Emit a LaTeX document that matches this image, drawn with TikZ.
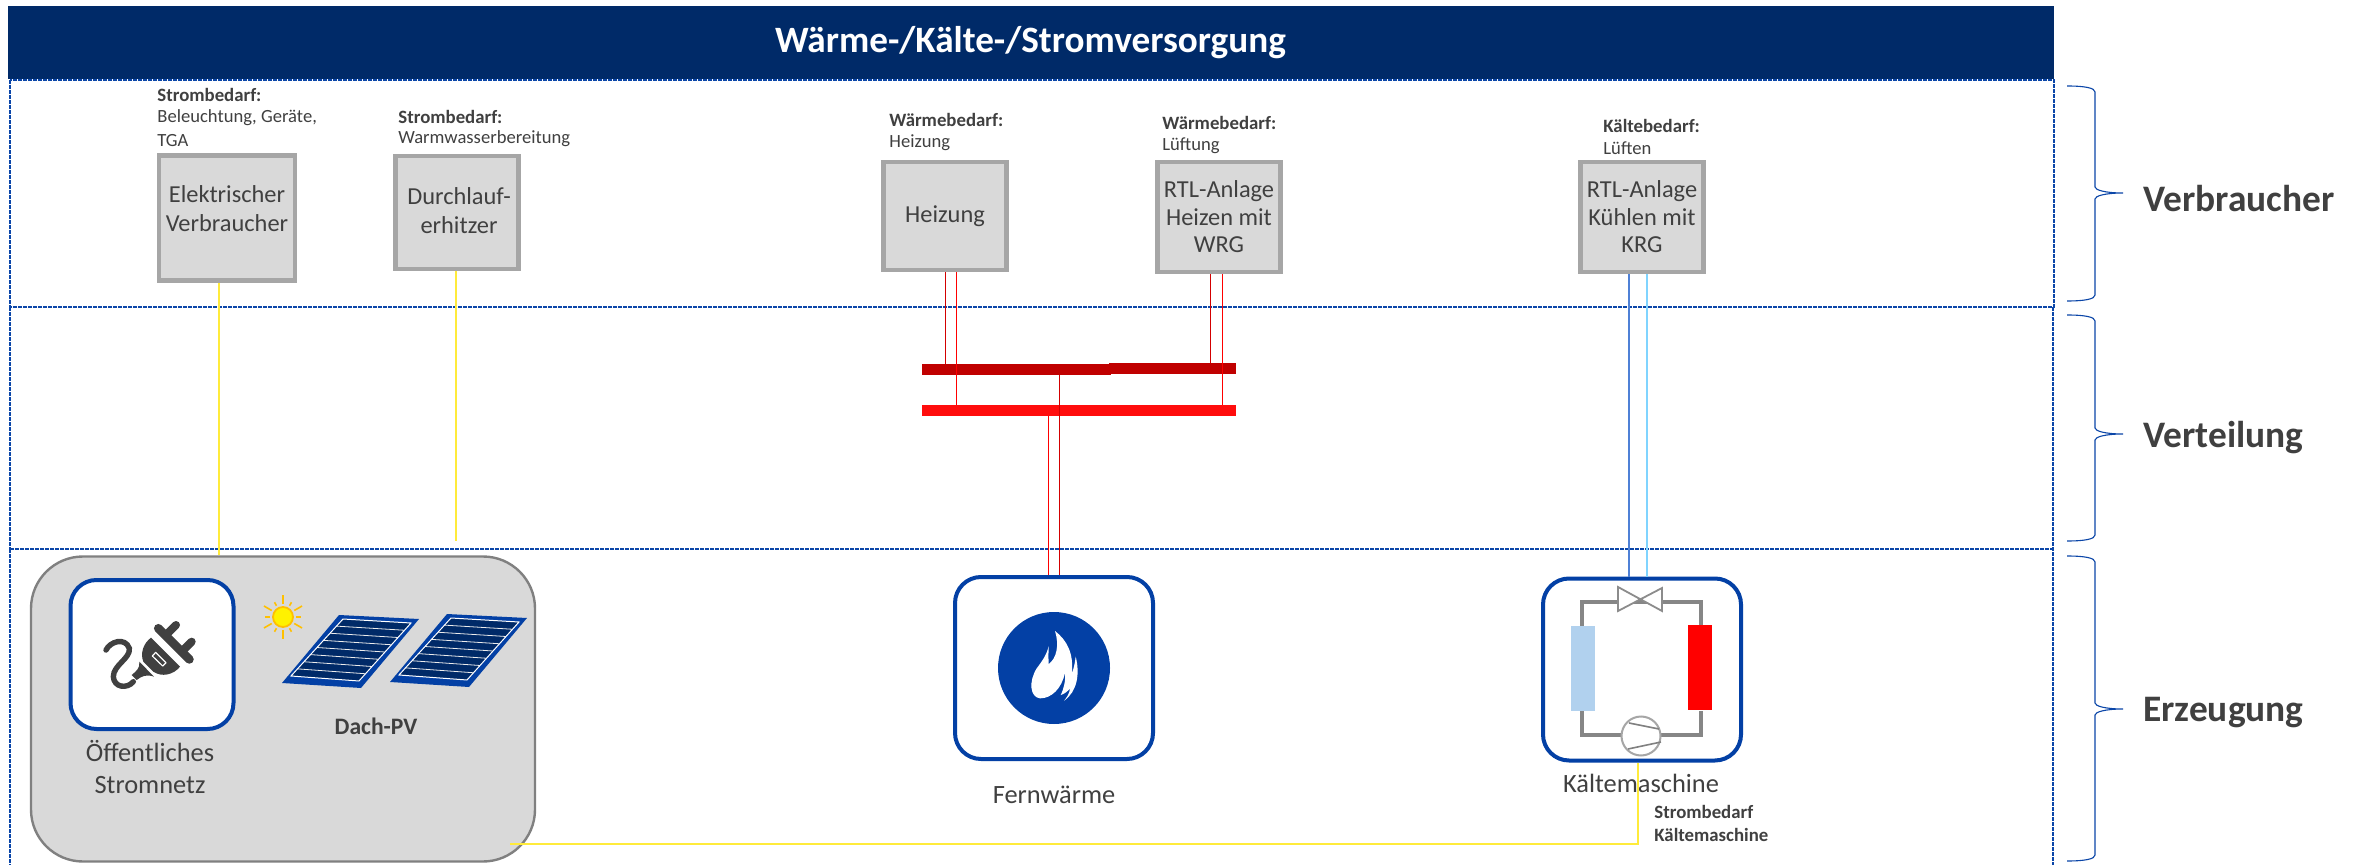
\documentclass[tikz,border=0pt]{standalone}
\usepackage{fontspec}
\setmainfont{Carlito}
\usetikzlibrary{calc}
\definecolor{navy}{HTML}{002A68}
\definecolor{bandblue}{HTML}{0B46A8}
\definecolor{iconblue}{HTML}{0340A5}
\definecolor{txt}{HTML}{404040}
\definecolor{boxfill}{HTML}{D9D9D9}
\definecolor{boxline}{HTML}{A6A6A6}
\definecolor{ylw}{HTML}{FFEB3B}
\definecolor{busdark}{HTML}{C00000}
\definecolor{busred}{HTML}{FF0D0D}
\definecolor{coldfill}{HTML}{B1D1EE}
\definecolor{coolblue}{HTML}{4F81D6}
\definecolor{coollight}{HTML}{80D4FF}
\definecolor{sunray}{HTML}{FFC000}
\newcommand{\fs}[1]{\fontsize{#1}{#1}\selectfont}
\tikzset{
  x=0.5pt,y=-0.5pt,
  band/.style={draw=bandblue,line width=0.9pt,dash pattern=on 2pt off 0.5pt},
  loadbox/.style={draw=boxline,line width=2.2pt,fill=boxfill,inner sep=0,align=center,text=txt,font=\fs{12.2}},
  small/.style={anchor=west,inner sep=0,text=txt,font=\fs{9.3},align=left},
  smallb/.style={anchor=west,inner sep=0,text=txt,font=\fs{9.4}\bfseries,align=left},
  section/.style={anchor=base west,inner sep=0,text=txt,font=\fs{18.7}\bfseries},
  lbl/.style={inner sep=0,text=txt,font=\fs{13.2},align=center},
  iconbox/.style={draw=iconblue,line width=2pt,fill=white,rounded corners=13pt,inner sep=0},
  elec/.style={draw=ylw,line width=0.75pt},
  hotline/.style={draw=red,line width=0.5pt},
  darkline/.style={draw=busdark!70!red,line width=0.5pt},
  bracestyle/.style={draw=bandblue,line width=0.55pt},
  pipe/.style={draw=gray!95,line width=1.9pt},
  solarpanel/.pic={
    \fill[iconblue] (0,0) -- (80,4) -- (22,73) -- (-57,68) -- cycle;
    \coordinate (pa) at (4,4); \coordinate (pb) at (72,8);
    \coordinate (pc) at (20,66); \coordinate (pd) at (-48,61);
    \fill[navy] (pa) -- (pb) -- (pc) -- (pd) -- cycle;
    \foreach \i in {1,...,7}{
      \draw[white!85!gray,line width=0.4pt] ($(pa)!\i/8!(pd)$) -- ($(pb)!\i/8!(pc)$);
    }
    \draw[white,line width=0.5pt] (pa) -- (pb) -- (pc) -- (pd) -- cycle;
  }
}
\begin{document}
\begin{tikzpicture}
\useasboundingbox (0,0) rectangle (2364,865);
\fill[white] (0,0) rectangle (2364,865);

% bands
\draw[band] (10,80) rectangle (2054,307);
\draw[band,line width=0.6pt] (10,307) -- (10,549) (2053,307) -- (2053,865);
\draw[band,line width=0.7pt] (10,549) -- (2053,549);
\draw[band,line width=0.6pt] (10,549) -- (10,865);

% title
\node[fill=navy,minimum width=1023pt,minimum height=36.5pt,inner sep=0,text=white,font=\fs{18.6}\bfseries] (title) at (1030.5,42.5) {\raisebox{-2pt}{Wärme-/Kälte-/Stromversorgung}};

% consumers
\node[loadbox,minimum width=68pt,minimum height=62.5pt] (el) at (227,218) {};
\node[inner sep=0,text=txt,font=\fs{12.2},align=center] (eltxt) at (227,209) {Elektrischer\\[2.3pt]Verbraucher};
\node[loadbox,minimum width=61.5pt,minimum height=56.5pt] (dl) at (457,212.5) {};
\node[inner sep=0,text=txt,font=\fs{12.2},align=center] (dltxt) at (459,211) {Durchlauf-\\[2.3pt]erhitzer};
\node[loadbox,minimum width=61.5pt,minimum height=54pt] (hz) at (945,216) {Heizung};
\node[loadbox,minimum width=61.5pt,minimum height=55pt] (rh) at (1219,217) {RTL-Anlage\\[1.5pt]Heizen mit\\[1.5pt]WRG};
\node[loadbox,minimum width=61.5pt,minimum height=55pt] (rk) at (1642,217) {RTL-Anlage\\[1.5pt]Kühlen mit\\[1.5pt]KRG};

% small labels
\node[smallb] (l1a) at (157,95) {Strombedarf:};
\node[small] (l1b) at (157,118) {Beleuchtung, Geräte,};
\node[small] (l1c) at (157,141) {TGA};
\node[smallb] (l2a) at (398,117) {Strombedarf:};
\node[small] (l2b) at (398,139) {Warmwasserbereitung};
\node[smallb] (l3a) at (889,120) {Wärmebedarf:};
\node[small] (l3b) at (889,143) {Heizung};
\node[smallb] (l4a) at (1162,123) {Wärmebedarf:};
\node[small] (l4b) at (1162,146) {Lüftung};
\node[smallb] (l5a) at (1603,126) {Kältebedarf:};
\node[small] (l5b) at (1603,148) {Lüften};

% generators
\node[draw=gray,line width=1.2pt,fill=boxfill,rounded corners=26pt,minimum width=252pt,minimum height=152.5pt,inner sep=0] (grid) at (283,709) {};
\node[iconbox,minimum width=81.5pt,minimum height=74.5pt] (plugbox) at (152,654.5) {};
\node[lbl] (plugtxt) at (150,767) {Öffentliches\\[3pt]Stromnetz};
\node[inner sep=0,text=txt,font=\fs{11.8}\bfseries] (pvtxt) at (376,726) {Dach-PV};
\node[iconbox,minimum width=99pt,minimum height=91pt] (fw) at (1054,668) {};
\node[circle,fill=iconblue,minimum size=56pt,inner sep=0] (flame) at (1054,668) {};
\node[lbl] (fwtxt) at (1054,795) {Fernwärme};
\node[iconbox,minimum width=99pt,minimum height=91pt] (km) at (1642,669.5) {};
\node[lbl] (kmtxt) at (1641,783) {Kältemaschine};
\node[smallb] (kma) at (1654,812) {Strombedarf};
\node[smallb] (kmb) at (1654,835) {Kältemaschine};

% plug icon
\begin{scope}[shift={(90,600)},x=0.1667pt,y=-0.1667pt]
  \draw[txt,line width=4pt,line cap=round] (258,75) -- (228,105);
  \draw[txt,line width=4pt,line cap=round] (305,125) -- (275,155);
  \draw[txt,line width=4.4pt,line cap=round] (205,85) -- (298,178);
  \fill[txt] (183,113) -- (270,200) .. controls (250,225) and (215,232) .. (190,215) -- (160,185) .. controls (150,160) and (160,130) .. (183,113) -- cycle;
  \fill[txt] (148,185) -- (192,230) .. controls (170,222) and (155,228) .. (140,240) -- (125,225) .. controls (140,212) and (150,205) .. (148,185) -- cycle;
  \draw[txt,line width=2.7pt,line cap=round] (48,150) .. controls (60,125) and (105,110) .. (118,145) .. controls (122,175) and (70,195) .. (70,230) .. controls (72,262) and (110,268) .. (130,245);
  \draw[white,line width=0.6pt,line cap=round] (197,157) -- (228,188) (187,168) -- (218,198);
  \draw[white,line width=0.6pt] (197,157) -- (187,168) (228,188) -- (218,198);
\end{scope}

% panels and sun
\pic at (339,615) {solarpanel};
\pic at (447,614) {solarpanel};
\foreach \a/\l in {90/22,60/17,30/22,0/18,-30/22,-60/17,-90/22,-120/17,-150/22,180/18,150/22,120/17}{
  \draw[sunray,line width=0.8pt] (283,617) ++(\a:13) -- ++(\a:\l-13);
}
\draw[draw=sunray,fill=yellow,line width=0.9pt] (283,617) circle[radius=10];

% flame
\begin{scope}[shift={(920,560)},x=0.1667pt,y=-0.1667pt]
\fill[white] (405,213) .. controls (440,240) and (462,280) .. (455,340) .. controls (462,325) and (465,305) .. (467,290)
 .. controls (480,340) and (472,395) .. (432,422) .. controls (440,412) and (448,402) .. (450,385) .. controls (442,395) and (432,402) .. (422,405)
 .. controls (432,385) and (437,360) .. (435,338) .. controls (425,385) and (395,415) .. (360,415)
 .. controls (330,412) and (325,365) .. (350,325) .. controls (365,305) and (380,285) .. (386,258) .. controls (385,280) and (385,300) .. (386,312)
 .. controls (410,295) and (418,255) .. (405,213) -- cycle;
\end{scope}

% refrigeration cycle
\draw[pipe] (1582,626) -- (1582,602) -- (1701,602) -- (1701,626);
\draw[pipe] (1582,711) -- (1582,735) -- (1701,735) -- (1701,711);
\fill[coldfill] (1571,626) rectangle (1595,711);
\fill[red] (1688,625) rectangle (1712,710);
\draw[draw=gray!90,line width=0.9pt,fill=white] (1618,587) -- (1662,611) -- (1662,588) -- (1618,611) -- cycle;
\node[circle,draw=boxline,line width=1pt,fill=white,minimum size=19.5pt,inner sep=0] (comp) at (1641,736) {};
\draw[draw=gray,line width=0.8pt] (1629,723) -- (1659,729) (1628,749) -- (1661,742);

% buses
\node[fill=busdark,minimum width=94.5pt,minimum height=5.5pt,inner sep=0] (busA) at (1016.5,369.5) {};
\node[fill=busdark,minimum width=63.5pt,minimum height=5.5pt,inner sep=0] (busB) at (1172.5,368.5) {};
\node[fill=busred,minimum width=94.5pt,minimum height=5.5pt,inner sep=0] (busC) at (1016.5,410.5) {};
\node[fill=busred,minimum width=63.5pt,minimum height=5.5pt,inner sep=0] (busD) at (1172.5,410.5) {};

% connectors
\coordinate (xe) at (219,0); \coordinate (xd) at (456,0);
\coordinate (xh1) at (945,0); \coordinate (xh2) at (956,0);
\coordinate (xr1) at (1210,0); \coordinate (xr2) at (1222,0);
\coordinate (xf1) at (1048,0); \coordinate (xf2) at (1059,0);
\coordinate (xk1) at (1629,0); \coordinate (xk2) at (1647,0);
\coordinate (xy) at (1638,844); \coordinate (xs) at (510,844);
\draw[elec] (xe |- el.south) -- (xe |- grid.north);
\draw[elec] (xd |- dl.south) -- (xd |- 0,541);
\draw[darkline] (xh1 |- hz.south) -- (xh1 |- busA.north);
\draw[hotline] (xh2 |- hz.south) -- (xh2 |- busC.north);
\draw[darkline] (xr1 |- rh.south) -- (xr1 |- busB.north);
\draw[hotline] (xr2 |- rh.south) -- (xr2 |- busD.north);
\draw[darkline] (xf2 |- busA.south) -- (xf2 |- fw.north);
\draw[hotline] (xf1 |- busC.south) -- (xf1 |- fw.north);
\draw[draw=coolblue,line width=0.75pt] (xk1 |- rk.south) -- (xk1 |- km.north);
\draw[draw=coollight,line width=0.75pt] (xk2 |- rk.south) -- (xk2 |- km.north);
\draw[elec] (xs) -- (xy) -- (xy |- km.south);

% braces
\foreach \t/\m/\b in {86/193/301,315/434/541,556/709/861}{
  \draw[bracestyle] (2067,\t) .. controls (2085,\t) and (2095,\t+2) .. (2095,\t+6) -- (2095,\m-6) .. controls (2095,\m-3) and (2105,\m) .. (2123,\m) .. controls (2105,\m) and (2095,\m+3) .. (2095,\m+6) -- (2095,\b-6) .. controls (2095,\b-2) and (2085,\b) .. (2067,\b);
}
\node[section] (s1) at (2143,212) {Verbraucher};
\node[section] (s2) at (2143,448) {Verteilung};
\node[section] (s3) at (2143,721) {Erzeugung};
\end{tikzpicture}
\end{document}
